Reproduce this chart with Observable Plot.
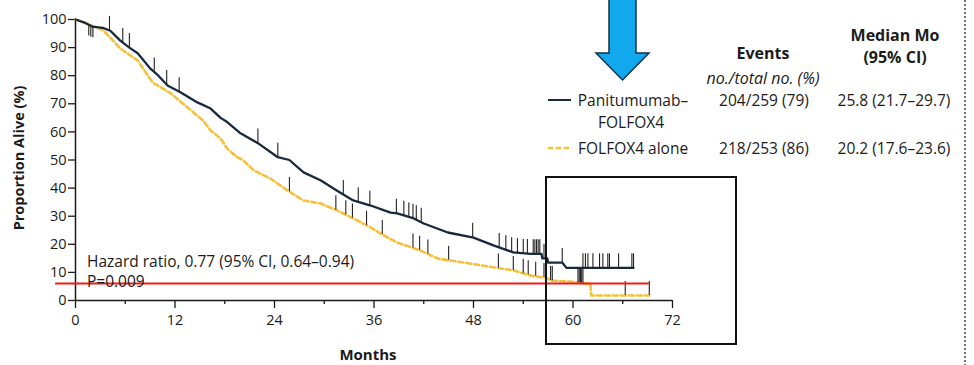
<!DOCTYPE html>
<html><head><meta charset="utf-8">
<script src="https://cdn.jsdelivr.net/npm/d3@7"></script>
<script src="https://cdn.jsdelivr.net/npm/@observablehq/plot@0.6"></script>
<style>
body{margin:0;background:#fff;}
#wrap{position:relative;width:974px;height:365px;font-family:"Open Sans",sans-serif;background:#fff;}
#wrap > svg{position:absolute;left:0;top:0;}
</style></head><body><div id="wrap"></div>
<script>
// ---- data ----
const panMonths = [0,1.0,2.0,3.3,4.2,5.4,6.5,7.5,9.0,10.0,11.1,12.7,14.7,16.3,17.5,18.3,19.9,22.0,24.4,25.8,27.5,29.6,31.6,33.5,35.6,38.0,38.8,40.8,42.0,44.9,48.0,50.4,52.8,54.9,56.2,56.3,56.9,57.0,58.7,59.2,67.3];
const panPct    = [100,99,97.5,97,96,92.5,90,88,82.6,80,76.5,74,70.5,68.3,65,63.5,59.5,56,51,50,45.6,42.7,39,35.6,33.8,31.3,31,29.2,27.4,24.2,22.4,19.6,17.1,16.6,16.6,15,15,13.5,13.5,11.6,11.6];
const folMonths = [0,1.5,3.4,5.4,7.5,9.3,11.5,13.5,15.4,16.3,17.5,18.3,19.5,20.2,21.5,23.5,25.6,27.5,29.6,31.6,33.5,35.6,36.8,38.8,41.6,43.7,46.8,48.9,52.8,55.0,56.9,57.3,60.1,61.3,62.1,62.2,69.2];
const folPct    = [100,98.5,96,89.7,85.4,77.6,73.7,68.7,64,60.5,57.7,54,51,50,46.3,43.4,39.1,35.6,34.5,32,29.2,26,23.8,20.6,17.8,14.9,13.5,12.5,10.7,8.8,8.0,7.1,6.6,6.0,6.0,1.8,1.8];
const panCensor = [4.1,5.7,6.5,9.5,11.0,12.5,22.0,24.4,32.3,34.1,35.5,38.7,39.6,40.2,40.7,41.1,41.7,47.9,51.1,51.9,52.6,53.3,54.0,54.5,55.2,55.4,55.6,55.8,56.0,56.5,56.7,58.7,61.2,61.5,61.8,62.4,63.2,63.6,64.2,64.4,65.5,67.1,67.3];
const earlyCensor = [1.6,1.85,2.1];
const folCensor = [25.8,31.4,32.6,33.4,35.1,37.0,40.7,41.5,42.5,45.0,51.0,52.8,54.0,54.6,55.5,56.5,57.3,57.5,60.6,60.75,60.9,61.05,61.2,66.3,69.2];
const xTicks = [0,12,24,36,48,60,72];
const xMinor = [6,18,30,42,54,66];
const yTicks = [0,10,20,30,40,50,60,70,80,90,100];
const groups = ["Panitumumab–\nFOLFOX4","FOLFOX4 alone"];
const events = ["204/259 (79)","218/253 (86)"];
const medians = ["25.8 (21.7–29.7)","20.2 (17.6–23.6)"];
const hazardLines = ["Hazard ratio, 0.77 (95% CI, 0.64–0.94)","P=0.009"];
const redRule = {y:6.05, x1:-2.4, x2:69.2};

// ---- helpers ----
const interp = (ms, ps, m) => {
  for (let i = 1; i < ms.length; i++) if (m <= ms[i]) {
    const t = (m - ms[i-1]) / ((ms[i] - ms[i-1]) || 1);
    return ps[i-1] + t * (ps[i] - ps[i-1]);
  }
  return ps[ps.length-1];
};
const panData = panMonths.map((m,i)=>({m, p:panPct[i]}));
const folData = folMonths.map((m,i)=>({m, p:folPct[i]}));
const panTick = panCensor.map(m=>({m, p:interp(panMonths,panPct,m)}));
const folTick = folCensor.map(m=>({m, p:interp(folMonths,folPct,m)}));
const earlyTick = earlyCensor.map(m=>({m, p:interp(panMonths,panPct,m)}));

const ink = "#1b1b1b";
const chart = Plot.plot({
  width:974, height:365,
  marginLeft:75, marginRight:302, marginTop:19, marginBottom:65,
  x:{domain:[0,72]},
  y:{domain:[0,100]},
  style:{fontFamily:"'Open Sans',sans-serif", fontSize:"14px", color:ink, background:"transparent", overflow:"visible"},
  marks:[
    Plot.axisX({ticks:xTicks, tickSize:8, tickPadding:6, fontSize:14.5, label:null, strokeWidth:1.3}),
    Plot.axisX({ticks:xMinor, tickSize:4, tickFormat:()=>"", label:null, strokeWidth:1.3}),
    Plot.axisY({ticks:yTicks, tickSize:7, tickPadding:2, fontSize:14.5, label:null, strokeWidth:1.3}),
    Plot.ruleX([0],{y1:0, y2:100, stroke:ink, strokeWidth:1.5}),
    Plot.ruleY([0],{x1:0, x2:72, stroke:ink, strokeWidth:1.5}),
    Plot.line(folData,{x:"m", y:"p", stroke:"#f5c03a", strokeWidth:2.6, strokeDasharray:"5,3"}),
    Plot.line(panData,{x:"m", y:"p", stroke:"#17293d", strokeWidth:2.3}),
    Plot.ruleX(panTick,{x:"m", y1:"p", y2:d=>d.p+5, stroke:"#222", strokeWidth:1.1}),
    Plot.ruleX(folTick,{x:"m", y1:"p", y2:d=>d.p+5, stroke:"#222", strokeWidth:1.1}),
    Plot.ruleX(earlyTick,{x:"m", y1:"p", y2:d=>d.p-4, stroke:"#222", strokeWidth:1.1}),
    Plot.ruleY([redRule],{y:"y", x1:"x1", x2:"x2", stroke:"#ee1c1c", strokeWidth:2})
  ]
});
const wrap = document.getElementById("wrap");
wrap.appendChild(chart);

// ---- overlay: titles, legend table, annotations ----
const ov = d3.select(wrap).append("svg").attr("width",974).attr("height",365)
  .style("font-family","'Open Sans',sans-serif").style("fill",ink);
const txt = (s,x,y,o={}) => ov.append("text").attr("x",x).attr("y",y)
  .attr("text-anchor",o.anchor||"middle").attr("dominant-baseline","central")
  .attr("font-size",o.size||15).attr("font-weight",o.weight||"normal")
  .attr("font-style",o.style||"normal").text(s);

// axis titles
txt("Months",368,354,{weight:"bold",size:15});
ov.append("text").attr("transform","translate(18,158) rotate(-90)").attr("text-anchor","middle")
  .attr("dominant-baseline","central").attr("font-size",14.5).attr("font-weight","bold").text("Proportion Alive (%)");

// hazard ratio
txt(hazardLines[0],87,261,{anchor:"start",size:15.5});
txt(hazardLines[1],87,281,{anchor:"start",size:15.5});

// legend headers
txt("Events",763,53,{weight:"bold",size:16});
txt("no./total no. (%)",763,78,{style:"italic",size:16});
txt("Median Mo",895,35,{weight:"bold",size:16});
txt("(95% CI)",895,57,{weight:"bold",size:16});
// rows
const [g1a,g1b] = groups[0].split("\n");
txt(g1a,633,100,{size:15.5}); txt(g1b,631,122,{size:15.5});
txt(groups[1],578,148,{anchor:"start",size:15.5});
txt(events[0],764,100,{size:15.5}); txt(events[1],764,148,{size:15.5});
txt(medians[0],894,100,{size:15.5}); txt(medians[1],894,148,{size:15.5});
ov.append("line").attr("x1",548).attr("x2",571).attr("y1",100).attr("y2",100).attr("stroke","#17293d").attr("stroke-width",2);
ov.append("line").attr("x1",548).attr("x2",571).attr("y1",148).attr("y2",148).attr("stroke","#f5c03a").attr("stroke-width",2.5).attr("stroke-dasharray","5,3");

// zoom box
ov.append("rect").attr("x",546).attr("y",177).attr("width",190).attr("height",167)
  .attr("fill","none").attr("stroke","#111").attr("stroke-width",2);
// blue arrow
ov.append("path").attr("d","M609,-2 L636,-2 L636,53 L649,53 L622.5,80 L596,53 L609,53 Z")
  .attr("fill","#12a8ee").attr("stroke","#10304a").attr("stroke-width",1.5);
// dotted right margin line
ov.append("line").attr("x1",965).attr("x2",965).attr("y1",0).attr("y2",365)
  .attr("stroke","#444").attr("stroke-width",1.5).attr("stroke-dasharray","2,2");
</script></body></html>
